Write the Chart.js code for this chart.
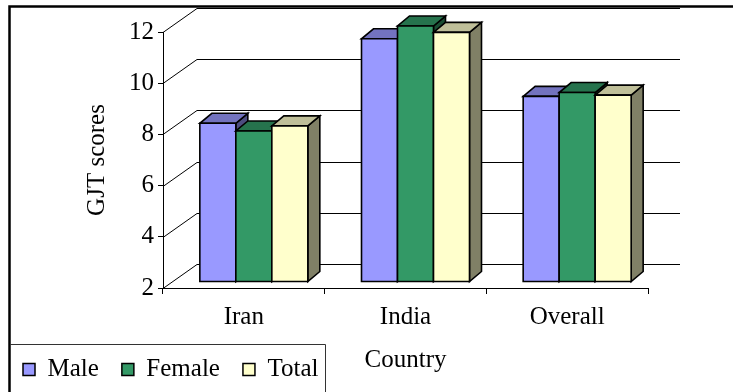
<!DOCTYPE html>
<html><head><meta charset="utf-8">
<script src="https://cdn.jsdelivr.net/npm/chart.js@4.4.0/dist/chart.umd.min.js"></script>
<style>html,body{margin:0;padding:0;background:#fff}#wrap{width:733px;height:392px;position:relative}</style>
</head><body><div id="wrap"><canvas id="c" width="733" height="392"></canvas></div>
<script>
const categories = ['Iran', 'India', 'Overall'];
const seriesNames = ['Male', 'Female', 'Total'];
const maleScores = [8.2, 11.5, 9.25];
const femaleScores = [7.9, 12.0, 9.4];
const totalScores = [8.1, 11.75, 9.3];
const yMin = 2, yMax = 12, yStep = 2;
const xTitle = 'Country';
const yTitle = 'GJT scores';

const FONT = "'Liberation Serif', 'Times New Roman', serif";
const WALL = {dx: 34, dy: -24};
const BAR_OFF = {dx: 10, dy: -6};
const DEPTH = {dx: 12, dy: -10};
const faces = [
  {front: '#9999FF', top: '#7373BF', side: '#4D4D80'},
  {front: '#339966', top: '#26734D', side: '#1A4D33'},
  {front: '#FFFFCC', top: '#BFBF99', side: '#808066'}
];

function poly(ctx, pts, fill) {
  ctx.beginPath();
  ctx.moveTo(pts[0][0], pts[0][1]);
  for (let i = 1; i < pts.length; i++) ctx.lineTo(pts[i][0], pts[i][1]);
  ctx.closePath();
  ctx.fillStyle = fill;
  ctx.fill();
  ctx.stroke();
}

const threeD = {
  id: 'threeD',
  beforeDatasetsDraw(chart) {
    const {ctx, chartArea, scales: {y}} = chart;
    ctx.save();
    ctx.strokeStyle = '#000';
    ctx.lineWidth = 1;
    y.ticks.forEach(t => {
      const py = Math.round(y.getPixelForValue(t.value)) + 0.5;
      ctx.beginPath();
      ctx.moveTo(chartArea.left, py);
      ctx.lineTo(chartArea.left + WALL.dx, py + WALL.dy);
      ctx.lineTo(chartArea.right + WALL.dx - 2, py + WALL.dy);
      ctx.stroke();
    });
    ctx.lineWidth = 1.6;
    ctx.lineJoin = 'miter';
    chart.data.datasets.forEach((ds, i) => {
      const meta = chart.getDatasetMeta(i);
      const f = faces[i];
      meta.data.forEach(el => {
        const p = el.getProps(['x', 'y', 'base', 'width'], true);
        const l = p.x - p.width / 2 + BAR_OFF.dx, r = p.x + p.width / 2 + BAR_OFF.dx;
        const t = p.y + BAR_OFF.dy, b = p.base + BAR_OFF.dy;
        poly(ctx, [[r, t], [r + DEPTH.dx, t + DEPTH.dy], [r + DEPTH.dx, b + DEPTH.dy], [r, b]], f.side);
        poly(ctx, [[l, t], [r, t], [r + DEPTH.dx, t + DEPTH.dy], [l + DEPTH.dx, t + DEPTH.dy]], f.top);
        poly(ctx, [[l, t], [r, t], [r, b], [l, b]], f.front);
      });
    });
    ctx.restore();
    return false;
  },
  afterDraw(chart) {
    const ctx = chart.ctx;
    ctx.save();
    ctx.strokeStyle = '#000';
    ctx.lineWidth = 2.5;
    ctx.beginPath();
    ctx.moveTo(9.5, 400);
    ctx.lineTo(9.5, 6.5);
    ctx.lineTo(740, 6.5);
    ctx.stroke();
    const lg = chart.legend;
    const hb = lg.legendHitBoxes;
    const last = hb[hb.length - 1];
    const right = Math.round(last.left + last.width + 7) + 0.5;
    const top = Math.round(lg.top + 10) + 0.5;
    ctx.lineWidth = 1;
    ctx.strokeStyle = '#333';
    ctx.beginPath();
    ctx.moveTo(10, top);
    ctx.lineTo(right, top);
    ctx.lineTo(right, 400);
    ctx.stroke();
    ctx.restore();
  }
};

const colors = faces.map(f => f.front);
const seriesData = [maleScores, femaleScores, totalScores];

new Chart(document.getElementById('c'), {
  type: 'bar',
  data: {
    labels: categories,
    datasets: seriesNames.map((n, i) => ({
      label: n,
      data: seriesData[i],
      base: yMin,
      backgroundColor: colors[i],
      borderColor: '#000',
      borderWidth: 1.5,
      barPercentage: 1.0,
      categoryPercentage: 0.668
    }))
  },
  options: {
    responsive: false,
    animation: false,
    events: [],
    layout: {padding: {top: 32, right: 85, left: 0, bottom: 0}},
    plugins: {
      tooltip: {enabled: false},
      legend: {
        position: 'bottom',
        align: 'start',
        labels: {
          boxWidth: 12, boxHeight: 12, padding: 23,
          color: '#000',
          font: {family: FONT, size: 25}
        }
      }
    },
    scales: {
      x: {
        grid: {display: true, drawOnChartArea: false, drawTicks: true, tickLength: 6, color: '#000', lineWidth: 1, offset: true},
        border: {display: true, color: '#000', width: 1},
        ticks: {color: '#000', padding: 8, font: {family: FONT, size: 25}},
        title: {display: true, text: xTitle, color: '#000', font: {family: FONT, size: 25}, padding: {top: 0, bottom: -41}},
        afterFit(s) { s.height = 46; }
      },
      y: {
        min: yMin, max: yMax,
        grid: {display: true, drawOnChartArea: false, drawTicks: true, tickLength: 5, color: '#000', lineWidth: 1},
        border: {display: true, color: '#000', width: 1},
        ticks: {stepSize: yStep, color: '#000', padding: 4, font: {family: FONT, size: 25}},
        title: {display: true, text: yTitle, color: '#000', font: {family: FONT, size: 25}, padding: {top: 82, bottom: 0}},
        afterFit(s) { s.width = 163; }
      }
    }
  },
  plugins: [threeD]
});
</script></body></html>
